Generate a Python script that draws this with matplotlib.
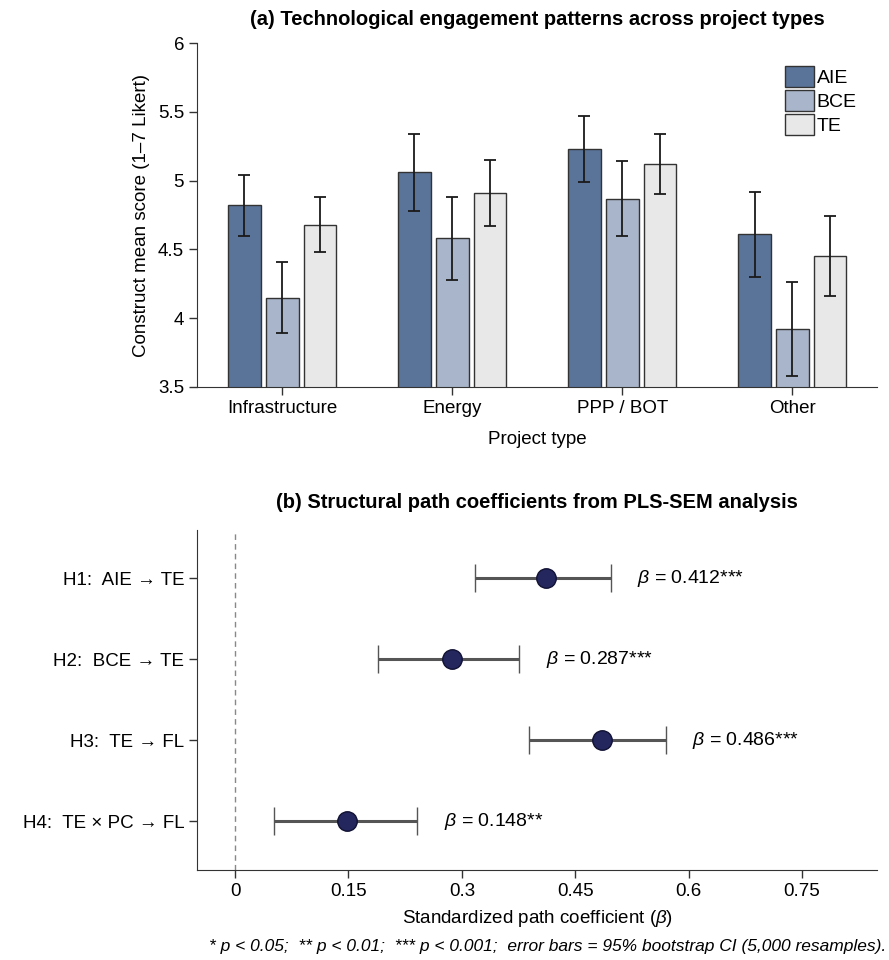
import numpy as np
import matplotlib
matplotlib.use("Agg")
import matplotlib.pyplot as plt

plt.rcParams['font.family'] = ['Liberation Sans', 'DejaVu Sans']
plt.rcParams['mathtext.fontset'] = 'custom'
plt.rcParams['mathtext.it'] = 'Liberation Sans:italic'
plt.rcParams['mathtext.rm'] = 'Liberation Sans'

# panel (a) data
project_types = ['Infrastructure', 'Energy', 'PPP / BOT', 'Other']
constructs = ['AIE', 'BCE', 'TE']
means = {
    'AIE': [4.82, 5.06, 5.23, 4.61],
    'BCE': [4.15, 4.58, 4.87, 3.92],
    'TE': [4.68, 4.91, 5.12, 4.45],
}
errs = {
    'AIE': [0.22, 0.28, 0.24, 0.31],
    'BCE': [0.26, 0.30, 0.27, 0.34],
    'TE': [0.20, 0.24, 0.22, 0.29],
}
bar_colors = {'AIE': '#5a7399', 'BCE': '#a8b5ca', 'TE': '#e8e8e8'}

# panel (b) data
paths = ['H1:  AIE \u2192 TE', 'H2:  BCE \u2192 TE', 'H3:  TE \u2192 FL', 'H4:  TE \u00d7 PC \u2192 FL']
betas = [0.412, 0.287, 0.486, 0.148]
ci_low = [0.318, 0.189, 0.389, 0.052]
ci_high = [0.497, 0.376, 0.570, 0.241]
stars = ['***', '***', '***', '**']

fig = plt.figure(figsize=(8.89, 9.6), dpi=100)

# ---- (a) grouped bars
ax1 = fig.add_axes([0.222, 0.597, 0.765, 0.358])
x = np.arange(len(project_types))
width = 0.19
offsets = [-0.223, 0, 0.223]
for c, off in zip(constructs, offsets):
    ax1.bar(x + off, means[c], width, yerr=errs[c], color=bar_colors[c],
            edgecolor='#333333', linewidth=1.0, label=c,
            error_kw=dict(ecolor='#1a1a1a', elinewidth=1.3, capsize=4.5, capthick=1.3))

ax1.set_xlim(-0.5, 3.5)
ax1.set_ylim(3.5, 6)
ax1.set_yticks([3.5, 4, 4.5, 5, 5.5, 6])
ax1.set_yticklabels(['3.5', '4', '4.5', '5', '5.5', '6'])
ax1.set_xticks(x)
ax1.set_xticklabels(project_types)
ax1.tick_params(axis='both', labelsize=13.5, length=6, width=1, color='#333333')
ax1.set_xlabel('Project type', fontsize=13.5, labelpad=10)
ax1.set_ylabel('Construct mean score (1\u20137 Likert)', fontsize=13.5, labelpad=6)
ax1.set_title('(a) Technological engagement patterns across project types',
              fontsize=14.5, fontweight='bold', pad=13)
for s in ['top', 'right']:
    ax1.spines[s].set_visible(False)
for s in ['left', 'bottom']:
    ax1.spines[s].set_color('#333333')
ax1.legend(loc='upper right', frameon=False, fontsize=14, handlelength=1.45,
           handleheight=1.3, handletextpad=0.15, labelspacing=0.15,
           bbox_to_anchor=(0.995, 0.985))

# ---- (b) path coefficients
ax2 = fig.add_axes([0.222, 0.094, 0.765, 0.354])
y = np.arange(len(paths))
xerr = [np.array(betas) - np.array(ci_low), np.array(ci_high) - np.array(betas)]
ax2.axvline(0, color='#888888', linestyle='--', linewidth=1, dashes=(4, 3))
ax2.errorbar(betas, y, xerr=xerr, fmt='o', color='#555555', ecolor='#555555',
             elinewidth=2.2, capsize=10, capthick=1.6, markersize=14,
             markerfacecolor='#23275e', markeredgecolor='#111133', markeredgewidth=1)
for b, hi, yy, st in zip(betas, ci_high, y, stars):
    ax2.text(hi + 0.035, yy, r'$\beta$' + f' = {b:.3f}{st}', va='center', ha='left',
             fontsize=14)

ax2.set_ylim(3.6, -0.6)
ax2.set_xlim(-0.05, 0.85)
ax2.set_yticks(y)
ax2.set_yticklabels(paths)
ax2.set_xticks([0, 0.15, 0.3, 0.45, 0.6, 0.75])
ax2.set_xticklabels(['0', '0.15', '0.3', '0.45', '0.6', '0.75'])
ax2.tick_params(axis='both', labelsize=13.5, length=6, width=1, color='#333333')
ax2.set_xlabel(r'Standardized path coefficient ($\beta$)', fontsize=13.5, labelpad=6)
ax2.set_title('(b) Structural path coefficients from PLS-SEM analysis',
              fontsize=14.5, fontweight='bold', pad=16)
for s in ['top', 'right']:
    ax2.spines[s].set_visible(False)
for s in ['left', 'bottom']:
    ax2.spines[s].set_color('#333333')

fig.text(0.997, 0.006,
         '* p < 0.05;  ** p < 0.01;  *** p < 0.001;  error bars = 95% bootstrap CI (5,000 resamples).',
         ha='right', va='bottom', fontsize=12.5, style='italic')

fig.savefig('out.png', dpi=100)
